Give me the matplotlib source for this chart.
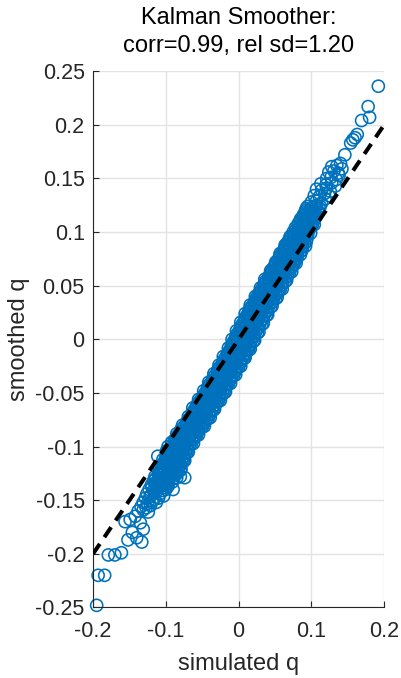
import matplotlib
matplotlib.use('Agg')
import matplotlib.pyplot as plt

plt.rcParams['font.family'] = ['Liberation Sans', 'DejaVu Sans']

# dense band of points (simulated q vs smoothed q)
core_sim = [
    -0.123, -0.117, -0.111, -0.105, -0.100,
    -0.120, -0.113, -0.107, -0.101, -0.096,
    -0.117, -0.110, -0.104, -0.097, -0.091,
    -0.115, -0.109, -0.103, -0.097, -0.091, -0.085,
    -0.109, -0.103, -0.097, -0.091, -0.085, -0.080,
    -0.109, -0.103, -0.097, -0.091, -0.085, -0.079,
    -0.104, -0.098, -0.092, -0.086, -0.080, -0.076,
    -0.104, -0.098, -0.092, -0.086, -0.080, -0.074,
    -0.099, -0.093, -0.087, -0.081, -0.075, -0.071,
    -0.099, -0.093, -0.087, -0.081, -0.075, -0.069,
    -0.097, -0.088, -0.082, -0.076, -0.070, -0.065,
    -0.092, -0.086, -0.080, -0.074, -0.068, -0.062,
    -0.086, -0.080, -0.074, -0.068, -0.062, -0.058,
    -0.085, -0.079, -0.073, -0.067, -0.061, -0.055,
    -0.079, -0.073, -0.067, -0.061, -0.055, -0.050,
    -0.077, -0.071, -0.065, -0.059, -0.053, -0.047,
    -0.070, -0.064, -0.058, -0.052, -0.046, -0.042,
    -0.069, -0.063, -0.057, -0.051, -0.045, -0.039,
    -0.063, -0.057, -0.051, -0.045, -0.039, -0.035,
    -0.063, -0.057, -0.051, -0.045, -0.039, -0.033,
    -0.056, -0.050, -0.044, -0.038, -0.032, -0.028,
    -0.055, -0.049, -0.043, -0.037, -0.031, -0.025,
    -0.048, -0.042, -0.036, -0.030, -0.024, -0.020,
    -0.048, -0.042, -0.036, -0.030, -0.024, -0.018,
    -0.042, -0.036, -0.030, -0.024, -0.018, -0.014,
    -0.041, -0.035, -0.029, -0.023, -0.017, -0.011,
    -0.035, -0.029, -0.023, -0.017, -0.011, -0.007,
    -0.034, -0.028, -0.022, -0.016, -0.010, -0.004,
    -0.028, -0.022, -0.016, -0.010, -0.004, 0.000,
    -0.027, -0.021, -0.015, -0.009, -0.003, 0.003,
    -0.021, -0.015, -0.009, -0.003, 0.003, 0.007,
    -0.021, -0.015, -0.009, -0.003, 0.003, 0.009,
    -0.014, -0.008, -0.002, 0.004, 0.010, 0.014,
    -0.014, -0.008, -0.002, 0.004, 0.010, 0.016,
    -0.008, -0.002, 0.004, 0.010, 0.016, 0.020,
    -0.009, -0.003, 0.003, 0.009, 0.015, 0.022,
    -0.003, 0.003, 0.009, 0.015, 0.021, 0.026,
    -0.003, 0.003, 0.009, 0.015, 0.021, 0.028,
    0.003, 0.009, 0.015, 0.021, 0.027, 0.032,
    0.003, 0.009, 0.015, 0.021, 0.027, 0.034,
    0.009, 0.015, 0.021, 0.027, 0.033, 0.038,
    0.009, 0.015, 0.021, 0.027, 0.033, 0.040,
    0.015, 0.021, 0.027, 0.033, 0.039, 0.044,
    0.016, 0.022, 0.028, 0.034, 0.040, 0.046,
    0.023, 0.029, 0.035, 0.041, 0.047, 0.051,
    0.023, 0.029, 0.035, 0.041, 0.047, 0.053,
    0.029, 0.035, 0.041, 0.047, 0.053, 0.057,
    0.030, 0.036, 0.042, 0.048, 0.054, 0.060,
    0.036, 0.042, 0.048, 0.054, 0.060, 0.064,
    0.036, 0.042, 0.048, 0.054, 0.060, 0.066,
    0.043, 0.049, 0.055, 0.061, 0.067, 0.070,
    0.044, 0.050, 0.056, 0.062, 0.068, 0.073,
    0.049, 0.055, 0.061, 0.067, 0.073, 0.076,
    0.051, 0.057, 0.063, 0.069, 0.075, 0.079,
    0.056, 0.062, 0.068, 0.074, 0.080,
    0.057, 0.063, 0.069, 0.075, 0.081, 0.085,
    0.063, 0.069, 0.075, 0.081, 0.087,
    0.064, 0.070, 0.076, 0.082, 0.088, 0.092,
    0.069, 0.075, 0.081, 0.087, 0.093,
    0.071, 0.077, 0.083, 0.089, 0.095,
    0.075, 0.081, 0.087, 0.093, 0.099,
    0.078, 0.084, 0.090, 0.096, 0.101,
    0.082, 0.088, 0.094, 0.100, 0.104,
    0.085, 0.091, 0.097, 0.103,
    0.089, 0.095, 0.101, 0.107,
    0.092, 0.098, 0.104, 0.109,
    0.095, 0.101, 0.107, 0.112,
]
core_smooth = [
    -0.140, -0.141, -0.139, -0.141, -0.140,
    -0.136, -0.135, -0.137, -0.136, -0.134,
    -0.132, -0.133, -0.131, -0.132, -0.133,
    -0.128, -0.127, -0.129, -0.128, -0.126, -0.129,
    -0.124, -0.125, -0.123, -0.124, -0.125, -0.122,
    -0.120, -0.119, -0.121, -0.120, -0.118, -0.121,
    -0.116, -0.117, -0.115, -0.116, -0.117, -0.114,
    -0.112, -0.111, -0.113, -0.112, -0.110, -0.113,
    -0.108, -0.109, -0.107, -0.108, -0.109, -0.106,
    -0.104, -0.103, -0.105, -0.104, -0.102, -0.105,
    -0.100, -0.101, -0.099, -0.100, -0.101, -0.098,
    -0.096, -0.095, -0.097, -0.096, -0.094, -0.097,
    -0.092, -0.093, -0.091, -0.092, -0.093, -0.090,
    -0.088, -0.087, -0.089, -0.088, -0.086, -0.089,
    -0.084, -0.085, -0.083, -0.084, -0.085, -0.082,
    -0.080, -0.079, -0.081, -0.080, -0.078, -0.081,
    -0.076, -0.077, -0.075, -0.076, -0.077, -0.074,
    -0.072, -0.071, -0.073, -0.072, -0.070, -0.073,
    -0.068, -0.069, -0.067, -0.068, -0.069, -0.066,
    -0.064, -0.063, -0.065, -0.064, -0.062, -0.065,
    -0.060, -0.061, -0.059, -0.060, -0.061, -0.058,
    -0.056, -0.055, -0.057, -0.056, -0.054, -0.057,
    -0.052, -0.053, -0.051, -0.052, -0.053, -0.050,
    -0.048, -0.047, -0.049, -0.048, -0.046, -0.049,
    -0.044, -0.045, -0.043, -0.044, -0.045, -0.042,
    -0.040, -0.039, -0.041, -0.040, -0.038, -0.041,
    -0.036, -0.037, -0.035, -0.036, -0.037, -0.034,
    -0.032, -0.031, -0.033, -0.032, -0.030, -0.033,
    -0.028, -0.029, -0.027, -0.028, -0.029, -0.026,
    -0.024, -0.023, -0.025, -0.024, -0.022, -0.025,
    -0.020, -0.021, -0.019, -0.020, -0.021, -0.018,
    -0.016, -0.015, -0.017, -0.016, -0.014, -0.017,
    -0.012, -0.013, -0.011, -0.012, -0.013, -0.010,
    -0.008, -0.007, -0.009, -0.008, -0.006, -0.009,
    -0.004, -0.005, -0.003, -0.004, -0.005, -0.002,
    0.000, 0.001, -0.001, 0.000, 0.002, -0.001,
    0.004, 0.003, 0.005, 0.004, 0.003, 0.006,
    0.008, 0.009, 0.007, 0.008, 0.010, 0.007,
    0.012, 0.011, 0.013, 0.012, 0.011, 0.014,
    0.016, 0.017, 0.015, 0.016, 0.018, 0.015,
    0.020, 0.019, 0.021, 0.020, 0.019, 0.022,
    0.024, 0.025, 0.023, 0.024, 0.026, 0.023,
    0.028, 0.027, 0.029, 0.028, 0.027, 0.030,
    0.032, 0.033, 0.031, 0.032, 0.034, 0.031,
    0.036, 0.035, 0.037, 0.036, 0.035, 0.038,
    0.040, 0.041, 0.039, 0.040, 0.042, 0.039,
    0.044, 0.043, 0.045, 0.044, 0.043, 0.046,
    0.048, 0.049, 0.047, 0.048, 0.050, 0.047,
    0.052, 0.051, 0.053, 0.052, 0.051, 0.054,
    0.056, 0.057, 0.055, 0.056, 0.058, 0.055,
    0.060, 0.059, 0.061, 0.060, 0.059, 0.062,
    0.064, 0.065, 0.063, 0.064, 0.066, 0.063,
    0.068, 0.067, 0.069, 0.068, 0.067, 0.070,
    0.072, 0.073, 0.071, 0.072, 0.074, 0.071,
    0.076, 0.075, 0.077, 0.076, 0.075,
    0.080, 0.081, 0.079, 0.080, 0.082, 0.079,
    0.084, 0.083, 0.085, 0.084, 0.083,
    0.088, 0.089, 0.087, 0.088, 0.090, 0.087,
    0.092, 0.091, 0.093, 0.092, 0.091,
    0.096, 0.097, 0.095, 0.096, 0.098,
    0.100, 0.099, 0.101, 0.100, 0.099,
    0.104, 0.105, 0.103, 0.104, 0.106,
    0.108, 0.107, 0.109, 0.108, 0.107,
    0.112, 0.113, 0.111, 0.112,
    0.116, 0.115, 0.117, 0.116,
    0.120, 0.121, 0.119, 0.120,
    0.124, 0.123, 0.125, 0.124,
]

# second, in-between layer of the dense band
mid_sim = [
    -0.119, -0.113, -0.107, -0.101,
    -0.115, -0.109, -0.103, -0.097,
    -0.114, -0.108, -0.102, -0.096, -0.090,
    -0.110, -0.104, -0.098, -0.092, -0.086,
    -0.107, -0.101, -0.095, -0.089, -0.083,
    -0.105, -0.099, -0.093, -0.087, -0.081,
    -0.102, -0.096, -0.090, -0.084, -0.078,
    -0.100, -0.094, -0.088, -0.082, -0.076,
    -0.097, -0.091, -0.085, -0.079, -0.073,
    -0.094, -0.088, -0.082, -0.076, -0.070,
    -0.091, -0.085, -0.079, -0.073, -0.067,
    -0.088, -0.082, -0.076, -0.070, -0.064,
    -0.084, -0.078, -0.072, -0.066, -0.060,
    -0.080, -0.074, -0.068, -0.062, -0.056,
    -0.076, -0.070, -0.064, -0.058, -0.052,
    -0.072, -0.066, -0.060, -0.054, -0.048,
    -0.068, -0.062, -0.056, -0.050, -0.044,
    -0.064, -0.058, -0.052, -0.046, -0.040,
    -0.061, -0.055, -0.049, -0.043, -0.037,
    -0.058, -0.052, -0.046, -0.040, -0.034,
    -0.054, -0.048, -0.042, -0.036, -0.030,
    -0.050, -0.044, -0.038, -0.032, -0.026,
    -0.046, -0.040, -0.034, -0.028, -0.022,
    -0.043, -0.037, -0.031, -0.025, -0.019,
    -0.040, -0.034, -0.028, -0.022, -0.016,
    -0.036, -0.030, -0.024, -0.018, -0.012,
    -0.033, -0.027, -0.021, -0.015, -0.009,
    -0.029, -0.023, -0.017, -0.011, -0.005,
    -0.026, -0.020, -0.014, -0.008, -0.002,
    -0.022, -0.016, -0.010, -0.004, 0.002,
    -0.019, -0.013, -0.007, -0.001, 0.005,
    -0.016, -0.010, -0.004, 0.002, 0.008,
    -0.012, -0.006, 0.000, 0.006, 0.012,
    -0.010, -0.004, 0.002, 0.008, 0.014,
    -0.007, -0.001, 0.005, 0.011, 0.017,
    -0.004, 0.002, 0.008, 0.014, 0.020,
    -0.001, 0.005, 0.011, 0.017, 0.023,
    0.002, 0.008, 0.014, 0.020, 0.026,
    0.005, 0.011, 0.017, 0.023, 0.029,
    0.008, 0.014, 0.020, 0.026, 0.032,
    0.011, 0.017, 0.023, 0.029, 0.035,
    0.014, 0.020, 0.026, 0.032, 0.038,
    0.017, 0.023, 0.029, 0.035, 0.041,
    0.021, 0.027, 0.033, 0.039, 0.045,
    0.024, 0.030, 0.036, 0.042, 0.048,
    0.027, 0.033, 0.039, 0.045, 0.051,
    0.031, 0.037, 0.043, 0.049, 0.055,
    0.034, 0.040, 0.046, 0.052, 0.058,
    0.037, 0.043, 0.049, 0.055, 0.061,
    0.041, 0.047, 0.053, 0.059, 0.065,
    0.044, 0.050, 0.056, 0.062, 0.068,
    0.047, 0.053, 0.059, 0.065, 0.071,
    0.051, 0.057, 0.063, 0.069, 0.075,
    0.054, 0.060, 0.066, 0.072, 0.078,
    0.057, 0.063, 0.069, 0.075, 0.081,
    0.061, 0.067, 0.073, 0.079, 0.085,
    0.064, 0.070, 0.076, 0.082, 0.088,
    0.067, 0.073, 0.079, 0.085, 0.091,
    0.070, 0.076, 0.082, 0.088, 0.094,
    0.076, 0.082, 0.088, 0.094,
    0.079, 0.085, 0.091, 0.097,
    0.082, 0.088, 0.094, 0.100,
    0.085, 0.091, 0.097, 0.103,
    0.088, 0.094, 0.100, 0.106,
    0.091, 0.097, 0.103, 0.109,
    0.093, 0.099, 0.105, 0.111,
]
mid_smooth = [
    -0.138, -0.139, -0.137, -0.138,
    -0.134, -0.135, -0.133, -0.134,
    -0.130, -0.129, -0.131, -0.129, -0.130,
    -0.126, -0.125, -0.127, -0.125, -0.126,
    -0.122, -0.121, -0.123, -0.121, -0.122,
    -0.118, -0.117, -0.119, -0.117, -0.118,
    -0.114, -0.113, -0.115, -0.113, -0.114,
    -0.110, -0.109, -0.111, -0.109, -0.110,
    -0.106, -0.105, -0.107, -0.105, -0.106,
    -0.102, -0.101, -0.103, -0.101, -0.102,
    -0.098, -0.097, -0.099, -0.097, -0.098,
    -0.094, -0.093, -0.095, -0.093, -0.094,
    -0.090, -0.089, -0.091, -0.089, -0.090,
    -0.086, -0.085, -0.087, -0.085, -0.086,
    -0.082, -0.081, -0.083, -0.081, -0.082,
    -0.078, -0.077, -0.079, -0.077, -0.078,
    -0.074, -0.073, -0.075, -0.073, -0.074,
    -0.070, -0.069, -0.071, -0.069, -0.070,
    -0.066, -0.065, -0.067, -0.065, -0.066,
    -0.062, -0.061, -0.063, -0.061, -0.062,
    -0.058, -0.057, -0.059, -0.057, -0.058,
    -0.054, -0.053, -0.055, -0.053, -0.054,
    -0.050, -0.049, -0.051, -0.049, -0.050,
    -0.046, -0.045, -0.047, -0.045, -0.046,
    -0.042, -0.041, -0.043, -0.041, -0.042,
    -0.038, -0.037, -0.039, -0.037, -0.038,
    -0.034, -0.033, -0.035, -0.033, -0.034,
    -0.030, -0.029, -0.031, -0.029, -0.030,
    -0.026, -0.025, -0.027, -0.025, -0.026,
    -0.022, -0.021, -0.023, -0.021, -0.022,
    -0.018, -0.017, -0.019, -0.017, -0.018,
    -0.014, -0.013, -0.015, -0.013, -0.014,
    -0.010, -0.009, -0.011, -0.009, -0.010,
    -0.006, -0.005, -0.007, -0.005, -0.006,
    -0.002, -0.001, -0.003, -0.001, -0.002,
    0.002, 0.003, 0.001, 0.003, 0.002,
    0.006, 0.007, 0.005, 0.007, 0.006,
    0.010, 0.011, 0.009, 0.011, 0.010,
    0.014, 0.015, 0.013, 0.015, 0.014,
    0.018, 0.019, 0.017, 0.019, 0.018,
    0.022, 0.023, 0.021, 0.023, 0.022,
    0.026, 0.027, 0.025, 0.027, 0.026,
    0.030, 0.031, 0.029, 0.031, 0.030,
    0.034, 0.035, 0.033, 0.035, 0.034,
    0.038, 0.039, 0.037, 0.039, 0.038,
    0.042, 0.043, 0.041, 0.043, 0.042,
    0.046, 0.047, 0.045, 0.047, 0.046,
    0.050, 0.051, 0.049, 0.051, 0.050,
    0.054, 0.055, 0.053, 0.055, 0.054,
    0.058, 0.059, 0.057, 0.059, 0.058,
    0.062, 0.063, 0.061, 0.063, 0.062,
    0.066, 0.067, 0.065, 0.067, 0.066,
    0.070, 0.071, 0.069, 0.071, 0.070,
    0.074, 0.075, 0.073, 0.075, 0.074,
    0.078, 0.079, 0.077, 0.079, 0.078,
    0.082, 0.083, 0.081, 0.083, 0.082,
    0.086, 0.087, 0.085, 0.087, 0.086,
    0.090, 0.091, 0.089, 0.091, 0.090,
    0.094, 0.095, 0.093, 0.095, 0.094,
    0.098, 0.097, 0.099, 0.098,
    0.102, 0.101, 0.103, 0.102,
    0.106, 0.105, 0.107, 0.106,
    0.110, 0.109, 0.111, 0.110,
    0.114, 0.113, 0.115, 0.114,
    0.118, 0.117, 0.119, 0.118,
    0.122, 0.121, 0.123, 0.122,
]

# thinner upper tail
upper_sim = [
    0.100, 0.107, 0.114, 0.119,
    0.104, 0.111, 0.118, 0.124,
    0.107, 0.114, 0.121, 0.126,
    0.113, 0.120, 0.128, 0.133,
    0.121, 0.127, 0.134, 0.138,
    0.124, 0.131, 0.137, 0.142,
    0.128, 0.135, 0.140, 0.146,
    0.154, 0.157, 0.160, 0.163,
    0.169, 0.180, 0.178, 0.192,
]
upper_smooth = [
    0.128, 0.129, 0.127, 0.131,
    0.134, 0.133, 0.136, 0.134,
    0.140, 0.139, 0.141, 0.138,
    0.145, 0.144, 0.146, 0.143,
    0.150, 0.151, 0.149, 0.153,
    0.156, 0.157, 0.155, 0.159,
    0.161, 0.162, 0.164, 0.172,
    0.183, 0.186, 0.188, 0.191,
    0.204, 0.207, 0.217, 0.236,
]

# thinner lower tail and stray points
lower_sim = [
    -0.126, -0.120, -0.114, -0.108, -0.103,
    -0.128, -0.122, -0.116, -0.110,
    -0.131, -0.125, -0.119, -0.113,
    -0.134, -0.127, -0.121,
    -0.138, -0.131, -0.124,
    -0.149, -0.142, -0.135, -0.131, -0.146, -0.152, -0.140, -0.133, -0.156,
    -0.097, -0.090, -0.080, -0.074, -0.111,
    -0.179, -0.170, -0.161, -0.193, -0.184, -0.195,
]
lower_smooth = [
    -0.144, -0.145, -0.143, -0.144, -0.146,
    -0.148, -0.147, -0.149, -0.148,
    -0.152, -0.153, -0.151, -0.152,
    -0.156, -0.157, -0.155,
    -0.160, -0.159, -0.161,
    -0.168, -0.165, -0.171, -0.177, -0.180, -0.187, -0.185, -0.189, -0.170,
    -0.137, -0.140, -0.128, -0.129, -0.109,
    -0.201, -0.201, -0.199, -0.220, -0.220, -0.248,
]

ref_line = [-0.2, 0.2]
x_ticks = [-0.2, -0.1, 0, 0.1, 0.2]
x_tick_labels = ['-0.2', '-0.1', '0', '0.1', '0.2']
y_ticks = [-0.25, -0.2, -0.15, -0.1, -0.05, 0, 0.05, 0.1, 0.15, 0.2, 0.25]
y_tick_labels = ['-0.25', '-0.2', '-0.15', '-0.1', '-0.05', '0',
                 '0.05', '0.1', '0.15', '0.2', '0.25']

sim_q = core_sim + mid_sim + upper_sim + lower_sim
smooth_q = core_smooth + mid_smooth + upper_smooth + lower_smooth

fig = plt.figure(figsize=(4.01, 6.78), dpi=100)
ax = fig.add_axes([0.232, 0.104, 0.726, 0.791])

ax.scatter(sim_q, smooth_q, s=76, facecolors='none', edgecolors='#0072BD',
           linewidths=1.15, clip_on=False, zorder=2)
ax.plot(ref_line, ref_line, color='k', lw=2.9, linestyle=(0, (3, 2)),
        dash_capstyle='butt', zorder=3)

ax.set_xlim(-0.2, 0.2)
ax.set_ylim(-0.25, 0.25)
ax.set_xticks(x_ticks)
ax.set_xticklabels(x_tick_labels)
ax.set_yticks(y_ticks)
ax.set_yticklabels(y_tick_labels)

ax.grid(True, color='#e3e3e3', lw=1.0)
ax.set_axisbelow(True)
for side in ['top', 'right']:
    ax.spines[side].set_visible(False)
for side in ['left', 'bottom']:
    ax.spines[side].set_color('#262626')
    ax.spines[side].set_linewidth(0.8)
ax.tick_params(direction='in', length=4, width=0.8, colors='#262626',
               labelsize=15.5)
ax.tick_params(axis='y', pad=6)
ax.tick_params(axis='x', pad=10)

ax.set_title('Kalman Smoother:\ncorr=0.99, rel sd=1.20', fontsize=17,
             pad=14, linespacing=1.35)
ax.set_xlabel('simulated q', fontsize=17, color='#262626', labelpad=8)
ax.set_ylabel('smoothed q', fontsize=17, color='#262626', labelpad=4)

fig.savefig('out.png', dpi=100)
